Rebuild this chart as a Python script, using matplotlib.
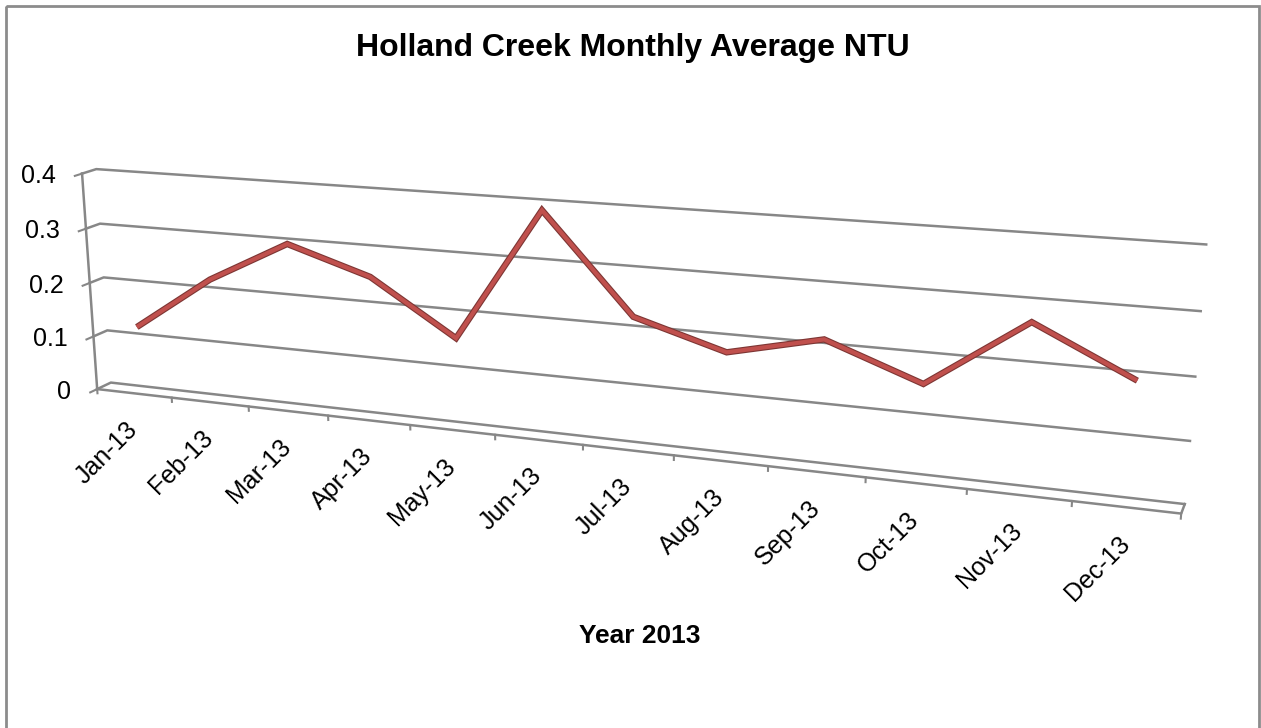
import matplotlib.pyplot as plt
import numpy as np

# --- data ---
months = ['Jan-13', 'Feb-13', 'Mar-13', 'Apr-13', 'May-13', 'Jun-13',
          'Jul-13', 'Aug-13', 'Sep-13', 'Oct-13', 'Nov-13', 'Dec-13']
ntu = [0.119, 0.220, 0.296, 0.250, 0.156, 0.387,
       0.221, 0.176, 0.212, 0.155, 0.268, 0.192]
y_ticks = [0, 0.1, 0.2, 0.3, 0.4]

# --- Excel-style 3D box: (category, value, depth) -> screen pixel ---
# corners / ticks of the box as they sit on the page, used to fit a perspective camera
box_world = [(0, 0, 0), (0, 0.4, 0), (12, 0, 0), (1, 0, 0), (2, 0, 0), (3, 0, 0),
             (4, 0, 0), (10, 0, 0), (11, 0, 0),
             (0, 0.1, 0), (0, 0.2, 0), (0, 0.3, 0),
             (0, 0.4, 1), (0, 0.3, 1), (0, 0.2, 1), (0, 0.1, 1), (0, 0, 1),
             (12, 0.4, 1), (12, 0.3, 1), (12, 0.2, 1), (12, 0.1, 1), (12, 0, 1)]
box_screen = [(97.7, 387.5), (81, 173.3), (1181.7, 512), (171.7, 399), (249, 408),
              (328, 417), (410, 427), (966, 490), (1071.7, 501.7),
              (94.3, 334.3), (90, 281.7), (86, 227.7),
              (97, 170.7), (100, 224), (103.3, 277.7), (107.3, 330.3), (110, 381.7),
              (1206, 245), (1201, 311), (1195.7, 376.7), (1190, 440), (1185, 503)]


def norm(u, v, w):
    return np.array([u / 12.0, v / 0.4, w, 1.0])


# DLT fit of a 3x4 projection matrix
rows = []
for (u, v, w), (x, y) in zip(box_world, box_screen):
    X = norm(u, v, w)
    rows.append(np.r_[X, np.zeros(4), -x / 1000 * X])
    rows.append(np.r_[np.zeros(4), X, -y / 1000 * X])
P = np.linalg.svd(np.array(rows))[2][-1].reshape(3, 4)


def proj(u, v, w):
    u, v, w = np.broadcast_arrays(np.asarray(u, float), np.asarray(v, float), np.asarray(w, float))
    pts = np.stack([u / 12.0, v / 0.4, w, np.ones_like(u)])
    s = P @ pts
    return s[0] / s[2] * 1000, s[1] / s[2] * 1000


grey = '#878787'
font = 'Liberation Sans'

fig = plt.figure(figsize=(12.61, 7.28), dpi=100)
ax = fig.add_axes([0, 0, 1, 1])
ax.set_xlim(0, 1261)
ax.set_ylim(728, 0)
ax.axis('off')

# chart border
ax.add_patch(plt.Rectangle((6, 6), 1253, 730, fill=False, ec='#8c8c8c', lw=2))

# gridlines on side + back wall, y ticks and labels
for v in y_ticks:
    ax.plot(*proj([0, 0, 12], [v, v, v], [0, 1, 1]), color=grey, lw=1.8)
    ax.plot(*proj([0, 0], [v, v], [0, -0.5]), color=grey, lw=1.5)
    x, y = proj(0, v, -0.5)
    ax.text(x - 19, y, f'{v:g}', ha='right', va='center', fontsize=18, family=font)

# value axis edge and floor
ax.plot(*proj([0, 0], [0, 0.4], [0, 0]), color=grey, lw=1.8)
ax.plot(*proj([0, 12, 12], [0, 0, 0], [0, 0, 1]), color=grey, lw=1.8)

# category ticks and labels
for i in range(len(months) + 1):
    ax.plot(*proj([i, i], [0, -0.008], [0, 0]), color=grey, lw=1.5)
for i, m in enumerate(months):
    x, y = proj(i + 0.5, 0, 0)
    ax.text(x - 9, y + 24, m, rotation=45, ha='right', va='top', rotation_mode='anchor',
            fontsize=18, family=font)

# the series, drawn at mid depth of the box
lx, ly = proj(np.arange(len(ntu)) + 0.5, ntu, 0.5)
ax.plot(lx, ly, color='#7d3634', lw=4.6, solid_joinstyle='miter', solid_capstyle='butt')
ax.plot(lx, ly, color='#c0504d', lw=3.0, solid_joinstyle='miter', solid_capstyle='butt')

ax.text(633, 48, 'Holland Creek Monthly Average NTU', ha='center', va='center',
        fontsize=23, fontweight='bold', family=font)
ax.text(640, 636, 'Year 2013', ha='center', va='center',
        fontsize=19, fontweight='bold', family=font)

fig.savefig('out.png', dpi=100)
